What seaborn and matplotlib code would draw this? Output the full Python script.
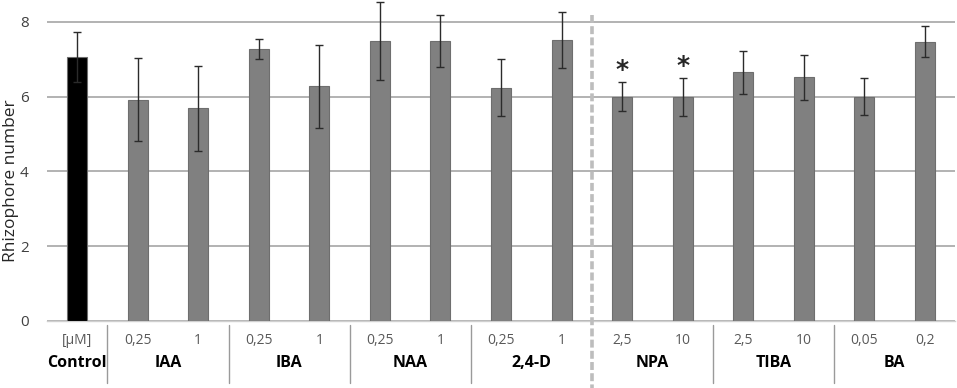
import pandas as pd
import matplotlib
matplotlib.use("Agg")
import matplotlib.pyplot as plt
import matplotlib.transforms as mtransforms
import seaborn as sns

# Data
groups = ["Control", "IAA", "IBA", "NAA", "2,4-D", "NPA", "TIBA", "BA"]
group_sizes = [1, 2, 2, 2, 2, 2, 2, 2]
concentrations = ["[µM]", "0,25", "1", "0,25", "1", "0,25", "1", "0,25", "1",
                  "2,5", "10", "2,5", "10", "0,05", "0,2"]
means = [7.05, 5.92, 5.68, 7.28, 6.27, 7.48, 7.49, 6.23, 7.50,
         6.00, 5.98, 6.65, 6.51, 6.00, 7.47]
errors = [0.67, 1.10, 1.14, 0.27, 1.11, 1.05, 0.70, 0.76, 0.75,
          0.39, 0.51, 0.57, 0.61, 0.49, 0.42]
significant = [False] * 9 + [True, True] + [False] * 4

df = pd.DataFrame({
    "treatment": [f"t{i}" for i in range(len(means))],
    "mean": means,
    "err": errors,
})
colors = ["black"] + ["#808080"] * (len(means) - 1)

sns.set_style("white")
plt.rcParams["font.family"] = ["Open Sans", "DejaVu Sans"]

fig = plt.figure(figsize=(9.57, 3.88), dpi=100)
ax = fig.add_axes([0.049, 0.1727, 0.949, 0.8273])

sns.barplot(data=df, x="treatment", y="mean", hue="treatment",
            palette=colors, legend=False, width=0.33,
            edgecolor="#6e6e6e", linewidth=0.8, ax=ax, zorder=3)
ax.errorbar(range(len(means)), df["mean"], yerr=df["err"], fmt="none",
            ecolor="#2b2b2b", elinewidth=1.0, capsize=3, capthick=1.0,
            zorder=4, clip_on=False)

ax.set_xlim(-0.5, len(means) - 0.5)
ax.set_ylim(0, 8.58)
ax.set_yticks([0, 2, 4, 6, 8])
ax.yaxis.grid(True, color="#a6a6a6", linewidth=1.2, zorder=0)
ax.set_axisbelow(True)
for s in ["top", "right", "left"]:
    ax.spines[s].set_visible(False)
ax.spines["bottom"].set_color("#d0d0d0")
ax.spines["bottom"].set_linewidth(1.0)
ax.tick_params(axis="y", length=0, labelsize=11, labelcolor="#404040", pad=13)
ax.set_xticks([])
ax.set_xlabel("")
ax.set_ylabel("Rhizophore number", fontsize=12.5)
ax.yaxis.label.set_verticalalignment("center")
ax.yaxis.set_label_coords(-0.039, 0.436)

# significance stars
for i, sig in enumerate(significant):
    if sig:
        ax.text(i, means[i] + errors[i] + 0.32, "*", ha="center", va="center",
                fontsize=18, fontweight="bold", family="DejaVu Sans")

# labels under the axis
trans = mtransforms.blended_transform_factory(ax.transData, ax.transAxes)
for i, c in enumerate(concentrations):
    ax.text(i, -0.062, c, transform=trans, ha="center", va="center",
            fontsize=10, color="#595959")

start = 0
for g, n in zip(groups, group_sizes):
    center = start + (n - 1) / 2
    ax.text(center, -0.13, g, transform=trans, ha="center", va="center",
            fontsize=11.5, fontweight="bold", color="black")
    start += n

# group separators
pos = 0
for n in group_sizes[:-1]:
    pos += n
    x = pos - 0.5
    if x == 8.5:
        ax.plot([x, x], [0.953, -0.21], transform=trans, color="#bdbdbd",
                linewidth=2.6, linestyle=(0, (2.2, 0.9)), clip_on=False, zorder=5)
    else:
        ax.plot([x, x], [-0.012, -0.193], transform=trans, color="#9a9a9a",
                linewidth=1.0, clip_on=False)

fig.savefig("out.png", dpi=100)
